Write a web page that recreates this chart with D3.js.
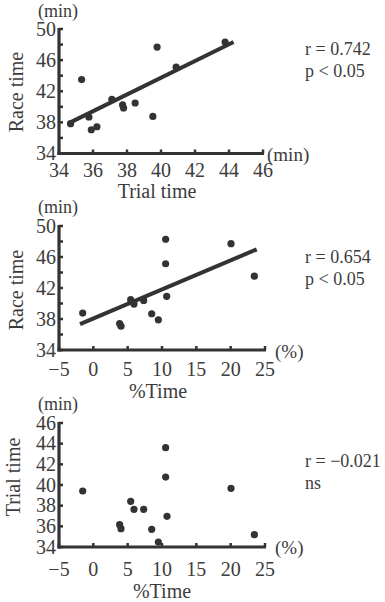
<!DOCTYPE html>
<html><head><meta charset="utf-8">
<script src="https://cdn.jsdelivr.net/npm/d3@7"></script>
<style>body{margin:0;background:#fff}svg{display:block}text{font-family:"Liberation Serif","Times New Roman",serif;fill:#3c3c3c}</style>
</head><body>
<script>
// Panel 1: Trial time vs Race time
const trialTime1 = [34.68, 35.33, 35.76, 35.9, 36.23, 37.11, 37.74, 37.8, 38.48, 39.52, 39.77, 40.89, 43.77];
const raceTime1  = [37.83, 43.5, 38.69, 37.05, 37.44, 40.97, 40.24, 39.85, 40.49, 38.77, 47.68, 45.1, 48.32];
const fitX1 = [34.55, 44.27];
const fitY1 = [37.87, 48.32];
const xTicks1 = [34, 36, 38, 40, 42, 44, 46];
const yTicks1 = [34, 36, 38, 40, 42, 44, 46, 48, 50];
const yLabels1 = [34, 38, 42, 46, 50];
const stats1 = ["r = 0.742", "p < 0.05"];

// Panel 2: %Time vs Race time
const pctTime2 = [-1.55, 3.83, 4.03, 5.44, 5.92, 7.33, 8.5, 9.47, 10.53, 10.53, 10.68, 20.05, 23.45];
const raceTime2 = [38.76, 37.42, 37.07, 40.49, 39.93, 40.4, 38.68, 37.9, 48.29, 45.13, 40.93, 47.72, 43.52];
const fitX2 = [-1.94, 23.79];
const fitY2 = [37.33, 46.99];
const xTicks2 = [-5, 0, 5, 10, 15, 20, 25];
const yTicks2 = [34, 36, 38, 40, 42, 44, 46, 48, 50];
const yLabels2 = [34, 38, 42, 46, 50];
const stats2 = ["r = 0.654", "p < 0.05"];

// Panel 3: %Time vs Trial time
const pctTime3 = [-1.55, 3.83, 4.03, 5.44, 5.92, 7.33, 8.5, 9.47, 10.53, 10.53, 10.73, 20.05, 23.45];
const trialTime3 = [39.42, 36.16, 35.77, 38.42, 37.65, 37.65, 35.71, 34.48, 43.61, 40.77, 36.97, 39.68, 35.19];
const xTicks3 = [-5, 0, 5, 10, 15, 20, 25];
const yTicks3 = [34, 36, 38, 40, 42, 44, 46];
const yLabels3 = [34, 36, 38, 40, 42, 44, 46];
const stats3 = ["r = \u22120.021", "ns"];

const ink = "#333";
const svg = d3.select("body").append("svg").attr("width", 385).attr("height", 602);
const fmt = v => v < 0 ? "\u2212" + Math.abs(v) : String(v);

function panel(o) {
  const x = d3.scaleLinear().domain(o.xDom).range(o.xRange);
  const y = d3.scaleLinear().domain(o.yDom).range(o.yRange);
  const g = svg.append("g");
  g.selectAll(".yt").data(o.yTicks).join("line")
    .attr("x1", x(o.xDom[0])).attr("x2", x(o.xDom[0]) + 4)
    .attr("y1", d => y(d)).attr("y2", d => y(d))
    .attr("stroke", ink).attr("stroke-width", 2.5);
  g.selectAll(".xt").data(o.xTicks).join("line")
    .attr("x1", d => x(d)).attr("x2", d => x(d))
    .attr("y1", y(o.yDom[0])).attr("y2", y(o.yDom[0]) - 4)
    .attr("stroke", ink).attr("stroke-width", 2.5);
  g.append("line").attr("x1", x(o.xDom[0])).attr("x2", x(o.xDom[0]))
    .attr("y1", y(o.yDom[0]) + 1.5).attr("y2", y(o.yDom[1]) - 1)
    .attr("stroke", ink).attr("stroke-width", 3.2);
  g.append("line").attr("x1", x(o.xDom[0]) - 1.5).attr("x2", x(o.xDom[1]) + 1)
    .attr("y1", y(o.yDom[0])).attr("y2", y(o.yDom[0]))
    .attr("stroke", ink).attr("stroke-width", 3.2);
  g.selectAll(".yl").data(o.yLabels).join("text")
    .attr("x", x(o.xDom[0]) - 3).attr("y", d => y(d) + 6.5)
    .attr("text-anchor", "end").attr("font-size", 20).text(fmt);
  g.selectAll(".xl").data(o.xTicks).join("text")
    .attr("x", d => x(d)).attr("y", o.xLabelY)
    .attr("text-anchor", "middle").attr("font-size", 20).text(fmt);
  g.append("text").attr("x", 38).attr("y", o.yUnitY).attr("font-size", 18).text("(min)");
  g.append("text").attr("x", o.xUnitX).attr("y", o.xUnitY).attr("font-size", 19).text(o.xUnit);
  g.append("text").attr("transform", `translate(${o.yTitleX},${o.yTitleY}) rotate(-90)`)
    .attr("text-anchor", "middle").attr("font-size", 20).text(o.yTitle);
  g.append("text").attr("x", o.xTitleX).attr("y", o.xTitleY)
    .attr("text-anchor", "middle").attr("font-size", 20).text(o.xTitle);
  g.selectAll(".st").data(o.stats).join("text")
    .attr("x", 305).attr("y", (d, i) => o.statY + i * 22)
    .attr("font-size", 18).text(d => d);
  if (o.fitX) {
    g.append("line").attr("x1", x(o.fitX[0])).attr("y1", y(o.fitY[0]))
      .attr("x2", x(o.fitX[1])).attr("y2", y(o.fitY[1]))
      .attr("stroke", ink).attr("stroke-width", 4);
  }
  g.selectAll(".pt").data(o.xs.map((v, i) => [v, o.ys[i]])).join("circle")
    .attr("cx", d => x(d[0])).attr("cy", d => y(d[1])).attr("r", 3.6).attr("fill", ink);
}

panel({xDom: [34, 46], xRange: [59, 263], yDom: [34, 50], yRange: [153.5, 29],
  xTicks: xTicks1, yTicks: yTicks1, yLabels: yLabels1, xs: trialTime1, ys: raceTime1,
  fitX: fitX1, fitY: fitY1, stats: stats1, statY: 55,
  xLabelY: 177, yUnitY: 17, xUnit: "(min)", xUnitX: 267, xUnitY: 161,
  yTitle: "Race time", yTitleX: 23, yTitleY: 92, xTitle: "Trial time", xTitleX: 157, xTitleY: 198});

panel({xDom: [-5, 25], xRange: [59, 265], yDom: [34, 50], yRange: [350, 226],
  xTicks: xTicks2, yTicks: yTicks2, yLabels: yLabels2, xs: pctTime2, ys: raceTime2,
  fitX: fitX2, fitY: fitY2, stats: stats2, statY: 263,
  xLabelY: 376, yUnitY: 213, xUnit: "(%)", xUnitX: 275, xUnitY: 358,
  yTitle: "Race time", yTitleX: 23, yTitleY: 290, xTitle: "%Time", xTitleX: 158, xTitleY: 398});

panel({xDom: [-5, 25], xRange: [59, 265], yDom: [34, 46], yRange: [547, 423],
  xTicks: xTicks3, yTicks: yTicks3, yLabels: yLabels3, xs: pctTime3, ys: trialTime3,
  stats: stats3, statY: 467,
  xLabelY: 576, yUnitY: 410, xUnit: "(%)", xUnitX: 275, xUnitY: 554,
  yTitle: "Trial time", yTitleX: 20, yTitleY: 477, xTitle: "%Time", xTitleX: 162, xTitleY: 598});
</script>
</body></html>
